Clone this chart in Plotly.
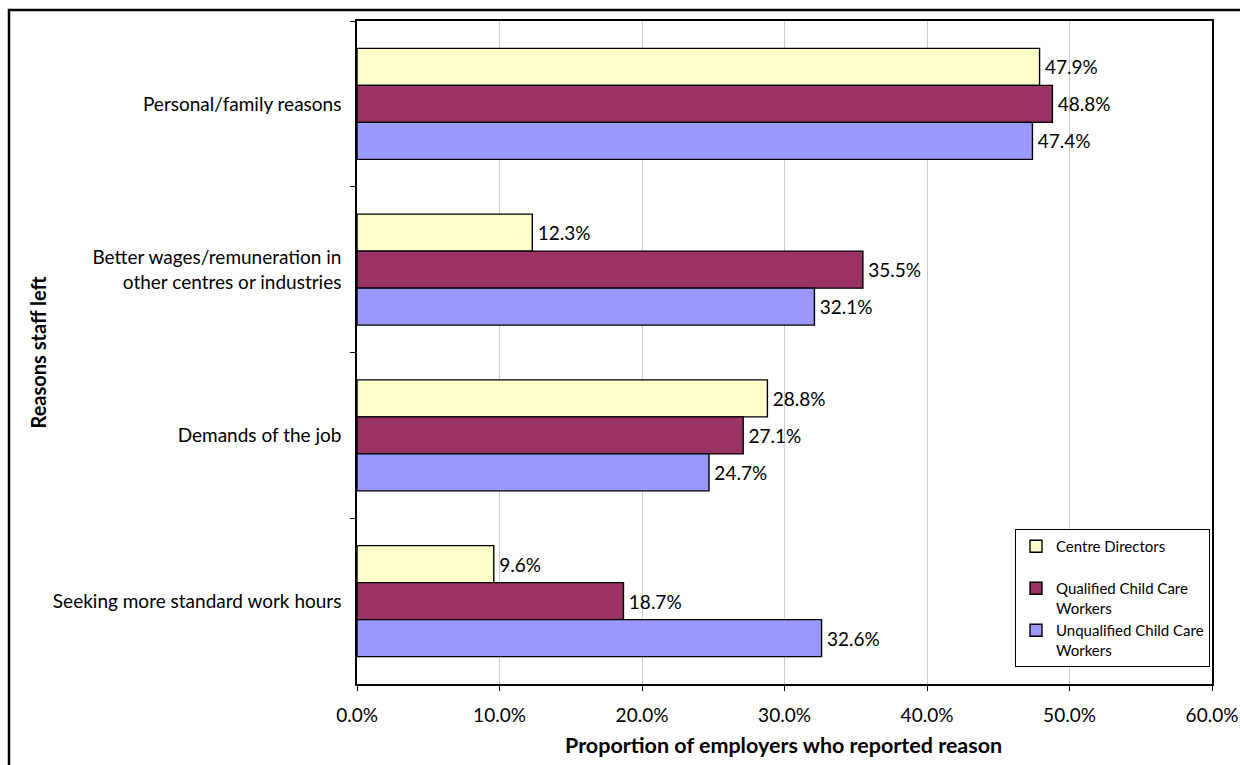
import plotly.graph_objects as go

# Reasons staff left, listed top to bottom
categories = [
    "Personal/family reasons",
    "Better wages/remuneration in<br>other centres or industries",
    "Demands of the job",
    "Seeking more standard work hours",
]

series_names = [
    "Centre Directors",
    "Qualified Child Care<br>Workers",
    "Unqualified Child Care<br>Workers",
]

centre_directors = [47.9, 12.3, 28.8, 9.6]
qualified_workers = [48.8, 35.5, 27.1, 18.7]
unqualified_workers = [47.4, 32.1, 24.7, 32.6]

x_ticks = [0, 10, 20, 30, 40, 50, 60]

series_values = [centre_directors, qualified_workers, unqualified_workers]
series_colors = ["#FFFFCC", "#993366", "#9999FF"]

FONT = "Lato"
W, H = 1240, 765
L, R, T, B = 357, 28, 21, 81
plot_w = W - L - R
plot_h = H - T - B

fig = go.Figure()
for i, (name, vals, col) in enumerate(zip(series_names, series_values, series_colors)):
    # single-line entries get an empty second line so all legend rows share one height
    label_name = name if "<br>" in name else name + "<br> "
    fig.add_trace(go.Bar(
        y=categories,
        x=vals,
        name=label_name,
        orientation="h",
        marker=dict(color=col, line=dict(color="#000000", width=1.4)),
        text=[f"\u2009{v:.1f}%" for v in vals],
        textposition="outside",
        textfont=dict(family=FONT, size=19, color="#000000"),
        constraintext="none",
        cliponaxis=False,
        legendgroup=f"g{i}",
    ))


def px_x(p):
    return (p - L) / plot_w


def px_y(p):
    return (H - B - p) / plot_h


fig.update_layout(
    width=W,
    height=H,
    margin=dict(l=L, r=R, t=T, b=B, autoexpand=False),
    paper_bgcolor="#FFFFFF",
    plot_bgcolor="#FFFFFF",
    barmode="group",
    bargap=0.33,
    bargroupgap=0,
    font=dict(family=FONT, size=19, color="#000000"),
    showlegend=True,
    legend=dict(
        x=px_x(1015),
        y=px_y(529),
        xanchor="left",
        yanchor="top",
        bgcolor="#FFFFFF",
        bordercolor="#000000",
        borderwidth=1,
        font=dict(family=FONT, size=15, color="#000000"),
        valign="top",
        tracegroupgap=0,
        itemwidth=30,
    ),
    xaxis=dict(
        range=[0, 60],
        tickvals=x_ticks,
        ticktext=[f"{v:.1f}%" for v in x_ticks],
        showgrid=True,
        gridcolor="#CCCCCC",
        gridwidth=1,
        zeroline=False,
        showline=True,
        linecolor="#000000",
        linewidth=1.5,
        mirror=True,
        ticks="outside",
        ticklen=5,
        tickcolor="#000000",
        tickfont=dict(family=FONT, size=19, color="#000000"),
        ticklabelstandoff=8,
        automargin=False,
        fixedrange=True,
    ),
    yaxis=dict(
        autorange="reversed",
        type="category",
        showgrid=False,
        zeroline=False,
        showline=True,
        linecolor="#000000",
        linewidth=1.5,
        mirror=True,
        ticks="outside",
        tickson="boundaries",
        ticklen=5,
        tickcolor="#000000",
        tickfont=dict(family=FONT, size=19, color="#000000"),
        ticklabelstandoff=10,
        automargin=False,
        fixedrange=True,
    ),
    annotations=[
        dict(
            text="<b>Proportion of employers who reported reason</b>",
            x=px_x(783), y=px_y(745), xref="paper", yref="paper",
            xanchor="center", yanchor="middle", showarrow=False,
            font=dict(family=FONT, size=21.5, color="#000000"),
        ),
        dict(
            text="<b>Reasons staff left</b>",
            x=px_x(37), y=0.5, xref="paper", yref="paper",
            xanchor="center", yanchor="middle", showarrow=False,
            textangle=-90,
            font=dict(family=FONT, size=20, color="#000000"),
        ),
    ],
    shapes=[
        # chart frame
        dict(
            type="rect", xref="paper", yref="paper",
            x0=px_x(9), x1=px_x(1250), y0=px_y(775), y1=px_y(10),
            line=dict(color="#000000", width=2.5), fillcolor="rgba(0,0,0,0)",
            layer="above",
        ),
    ],
)

fig.write_html("out.html")
